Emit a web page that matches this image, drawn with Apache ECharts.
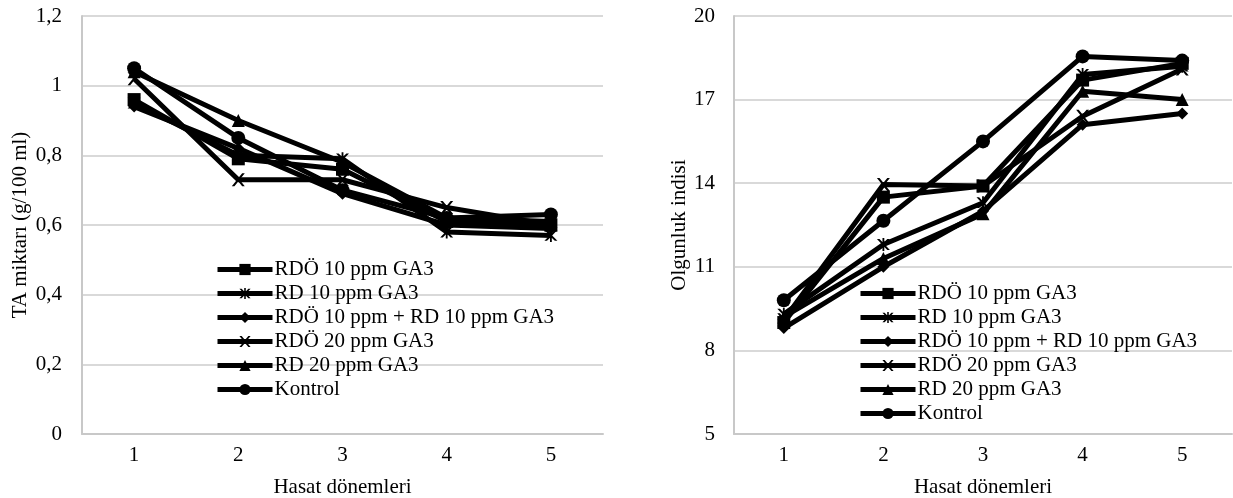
<!DOCTYPE html>
<html>
<head>
<meta charset="utf-8">
<script src="https://cdn.jsdelivr.net/npm/echarts@6/dist/echarts.min.js"></script>
<style>
html,body{margin:0;padding:0;background:#fff;}
#c{width:1233px;height:498px;}
</style>
</head>
<body>
<div id="c"></div>
<script>
// ---- data ----
const categories = ['1', '2', '3', '4', '5'];
const seriesNames = ['RDÖ 10 ppm GA3', 'RD 10 ppm GA3', 'RDÖ 10 ppm + RD 10 ppm GA3', 'RDÖ 20 ppm GA3', 'RD 20 ppm GA3', 'Kontrol'];

// TA miktarı (g/100 ml)
const taRDO10 = [0.96, 0.79, 0.76, 0.61, 0.60];
const taRD10 = [0.95, 0.80, 0.79, 0.58, 0.57];
const taMix = [0.94, 0.82, 0.69, 0.60, 0.59];
const taRDO20 = [1.02, 0.73, 0.73, 0.65, 0.60];
const taRD20 = [1.04, 0.90, 0.78, 0.62, 0.61];
const taKontrol = [1.05, 0.85, 0.70, 0.62, 0.63];

// Olgunluk indisi
const oiRDO10 = [9.0, 13.5, 13.9, 17.7, 18.3];
const oiRD10 = [9.3, 11.8, 13.3, 17.9, 18.2];
const oiMix = [8.8, 11.0, 13.0, 16.1, 16.5];
const oiRDO20 = [9.1, 13.95, 13.9, 16.4, 18.1];
const oiRD20 = [9.2, 11.3, 12.9, 17.3, 17.0];
const oiKontrol = [9.8, 12.65, 15.5, 18.55, 18.4];

const taData = [taRDO10, taRD10, taMix, taRDO20, taRD20, taKontrol];
const oiData = [oiRDO10, oiRD10, oiMix, oiRDO20, oiRD20, oiKontrol];

// ---- styles ----
const xPath = 'path://M0,0 L2,0 L5,3.6 L8,0 L10,0 L6,5 L10,10 L8,10 L5,6.4 L2,10 L0,10 L4,5 Z';
const starPath = 'path://M0,0 L2,0 L5,3.6 L8,0 L10,0 L6,5 L10,10 L8,10 L5,6.4 L2,10 L0,10 L4,5 Z M4.3,-1 L5.7,-1 L5.7,11 L4.3,11 Z';
const symbols = ['rect', starPath, 'diamond', xPath, 'triangle', 'circle'];
const symbolSizes = [13, 13, 12, 13, 13, 14];
const font = '"Liberation Serif", "Times New Roman", serif';
const fs = 21;
const axisGray = '#c8c8c8';
const gridGray = '#d9d9d9';

const chart = echarts.init(document.getElementById('c'), null, {renderer: 'canvas'});

function xAxis(gridIndex) {
  return {
    type: 'category', gridIndex, data: categories, boundaryGap: true,
    name: 'Hasat dönemleri', nameLocation: 'middle', nameGap: 43,
    nameTextStyle: {fontFamily: font, fontSize: fs, color: '#000'},
    axisLine: {show: true, lineStyle: {color: axisGray, width: 2}},
    axisTick: {show: false},
    axisLabel: {fontFamily: font, fontSize: fs, color: '#000', margin: 11},
    splitLine: {show: false}
  };
}

function legend(left, top) {
  return {
    data: seriesNames, orient: 'vertical', left, top,
    itemWidth: 55, itemHeight: 14, itemGap: 3, padding: 0,
    lineStyle: {width: 5, color: '#000'},
    textStyle: {fontFamily: font, fontSize: fs, color: '#000', padding: [0, 0, 0, -3]},
    selectedMode: false
  };
}

const option = {
  animation: false,
  backgroundColor: '#fff',
  grid: [
    {left: 82, right: 630, top: 16, bottom: 64, containLabel: false, outerBoundsMode: 'none'},
    {left: 734, right: 1, top: 16, bottom: 64, containLabel: false, outerBoundsMode: 'none'}
  ],
  xAxis: [xAxis(0), xAxis(1)],
  yAxis: [
    {
      type: 'value', gridIndex: 0, min: 0, max: 1.2, interval: 0.2,
      name: 'TA miktarı (g/100 ml)', nameLocation: 'middle', nameGap: 51, nameRotate: 90,
      nameTextStyle: {fontFamily: font, fontSize: fs, color: '#000'},
      axisLine: {show: true, lineStyle: {color: axisGray, width: 2}},
      axisTick: {show: false},
      axisLabel: {fontFamily: font, fontSize: fs, color: '#000', margin: 20,
        formatter: v => String(Math.round(v * 10) / 10).replace('.', ',')},
      splitLine: {show: true, lineStyle: {color: gridGray, width: 2}}
    },
    {
      type: 'value', gridIndex: 1, min: 5, max: 20, interval: 3,
      name: 'Olgunluk indisi', nameLocation: 'middle', nameGap: 34, nameRotate: 90,
      nameTextStyle: {fontFamily: font, fontSize: fs, color: '#000'},
      axisLine: {show: true, lineStyle: {color: axisGray, width: 2}},
      axisTick: {show: false},
      axisLabel: {fontFamily: font, fontSize: fs, color: '#000', margin: 19},
      splitLine: {show: true, lineStyle: {color: gridGray, width: 2}}
    }
  ],
  legend: [legend(215, 259), legend(858, 283)],
  series: []
};

function addSeries(dataSets, idx) {
  dataSets.forEach((d, i) => {
    option.series.push({
      type: 'line', name: seriesNames[i], xAxisIndex: idx, yAxisIndex: idx,
      data: d, symbol: symbols[i], symbolSize: symbolSizes[i], showAllSymbol: true,
      lineStyle: {color: '#000', width: 5},
      itemStyle: {color: '#000', borderColor: '#000', borderWidth: 0},
      z: 10 - i
    });
  });
}
addSeries(taData, 0);
addSeries(oiData, 1);

chart.setOption(option);
</script>
</body>
</html>
